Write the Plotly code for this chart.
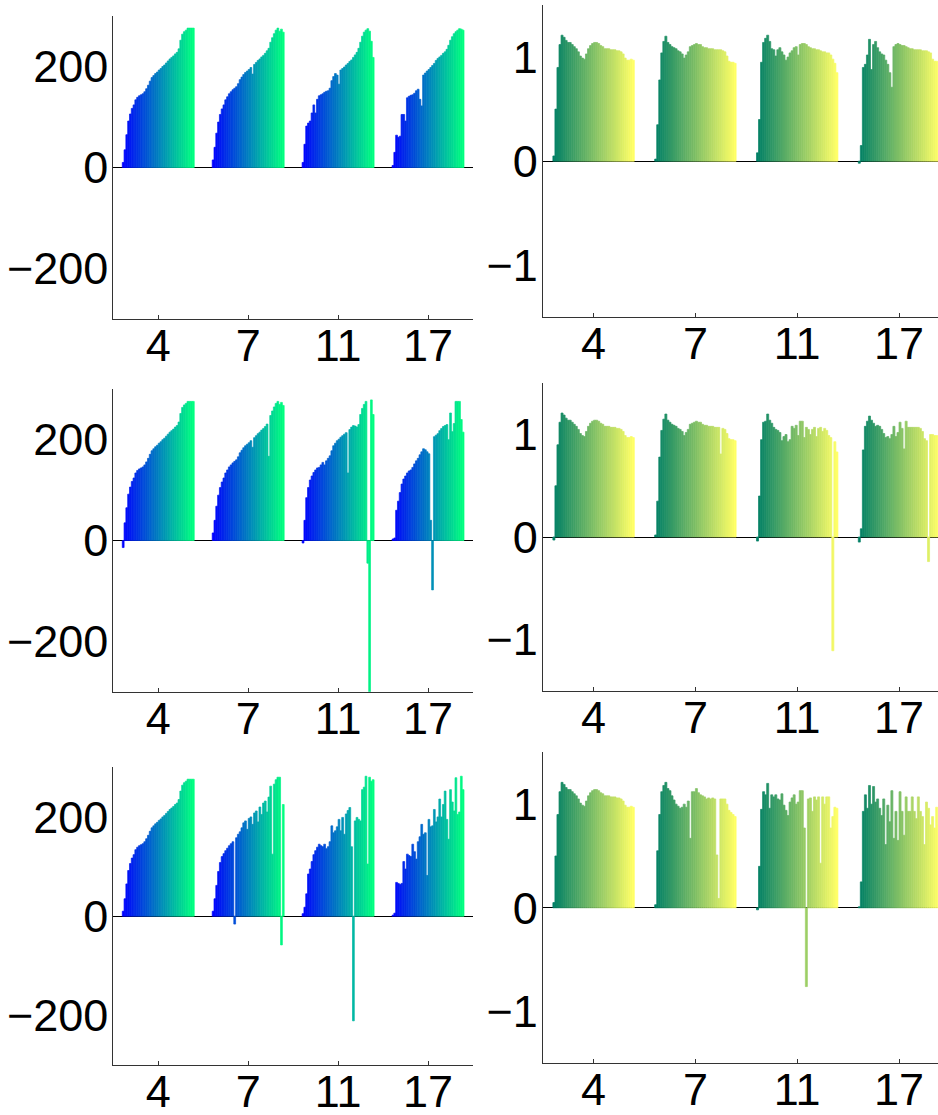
import plotly.graph_objects as go

categories = ["4", "7", "11", "17"]

# ---------- left column (values, scale -300..300) ----------
l1_g1 = [10, 35, 65, 92, 106, 117, 124, 134, 139, 142, 144, 146, 150, 156, 163, 171, 178, 182, 186, 189,
         193, 196, 200, 203, 207, 211, 215, 218, 221, 225, 228, 235, 252, 264, 269, 272, 276, 276, 276, 276]
l1_g2 = [15, 40, 68, 90, 105, 116, 124, 134, 140, 146, 150, 154, 157, 160, 166, 174, 179, 184, 188, 191,
         194, 198, 185, 204, 208, 212, 215, 219, 222, 226, 231, 236, 248, 257, 265, 272, 276, 270, 274, 268]
l1_g3 = [10, 46, 82, 88, 92, 108, 124, 108, 135, 142, 144, 146, 149, 151, 152, 157, 172, 180, 186, 183,
         165, 193, 196, 199, 203, 206, 210, 213, 218, 223, 228, 236, 248, 260, 268, 272, 275, 270, 250, 218]
l1_g4 = [4, 30, 64, 60, 62, 105, 105, 92, 138, 141, 143, 144, 147, 152, 155, 135, 122, 183, 187, 191,
         194, 198, 202, 206, 212, 216, 219, 222, 226, 229, 234, 242, 252, 259, 265, 269, 272, 275, 274, 272]

l2_g1 = [-14, 35, 65, 92, 106, 117, 124, 134, 139, 142, 144, 146, 150, 156, 163, 171, 178, 182, 186, 189,
         193, 196, 200, 203, 207, 211, 215, 218, 221, 225, 228, 235, 252, 264, 269, 272, 276, 276, 276, 276]
l2_g2 = [15, 40, 68, 90, 105, 116, 124, 134, 140, 146, 150, 154, 157, 160, 166, 174, 179, 184, 188, 191,
         194, 198, 185, 204, 208, 212, 215, 219, 222, 226, 231, 167, 248, 257, 265, 272, 276, 270, 274, 268]
l2_g3 = [-5, 40, 85, 105, 120, 128, 135, 140, 144, 145, 150, 155, 150, 158, 163, 168, 178, 188, 193, 198,
         201, 205, 208, 211, 214, 134, 220, 225, 228, 227, 225, 230, 250, 262, 270, 276, -45, -320, 279, 250]
l2_g4 = [3, 5, 60, 78, 95, 112, 122, 128, 134, 138, 140, 145, 152, 158, 163, 170, 176, 182, 180, 176,
         172, 40, -98, 206, 209, 212, 218, 222, 226, 228, 230, 200, 253, 216, 232, 276, 276, 276, 240, 215]

l3_g1 = [10, 35, 65, 92, 106, 117, 124, 134, 139, 142, 144, 146, 150, 156, 163, 171, 178, 182, 186, 189,
         193, 196, 200, 203, 207, 211, 215, 218, 221, 225, 228, 235, 252, 264, 269, 272, 276, 276, 276, 276]
l3_g2 = [10, 35, 62, 90, 108, 120, 126, 132, 137, 142, 146, 150, -16, 158, 165, 170, 178, 188, 192, 175,
         197, 200, 185, 208, 212, 190, 220, 205, 228, 232, 210, 240, 262, 125, 266, 275, 280, 280, -58, 225]
l3_g3 = [5, 18, 45, 85, 95, 110, 124, 132, 139, 145, 142, 140, 145, 136, 140, 150, 182, 168, 172, 180,
         195, 172, 199, 165, 206, 213, 219, 140, -211, 192, 199, 195, 192, 255, 260, 282, 105, 280, 272, 275]
l3_g4 = [2, 6, 68, 66, 64, 66, 110, 95, 125, 122, 120, 145, 130, 115, 150, 160, 185, 165, 168, 82,
         195, 180, 182, 215, 190, 200, 236, 200, 225, 252, 195, 155, 255, 230, 212, 279, 205, 210, 282, 255]

# ---------- right column (values, scale -1.5..1.5) ----------
r1_g1 = [0.05, 0.5, 0.9, 1.12, 1.21, 1.19, 1.16, 1.14, 1.14, 1.12, 1.1, 1.08, 1.05, 1.01, 0.99, 0.98, 1.03, 1.08, 1.11, 1.13,
         1.14, 1.14, 1.13, 1.11, 1.1, 1.08, 1.08, 1.08, 1.07, 1.07, 1.07, 1.06, 1.06, 1.05, 1.03, 0.99, 0.97, 0.97, 0.98, 0.97]
r1_g2 = [0.02, 0.35, 0.78, 1.04, 1.15, 1.2, 1.14, 1.12, 1.1, 1.09, 1.08, 1.06, 1.05, 1.03, 0.99, 1.02, 1.05, 1.1, 1.11, 1.12,
         1.13, 1.12, 1.12, 1.1, 1.09, 1.09, 1.08, 1.08, 1.08, 1.07, 1.07, 1.07, 1.07, 1.06, 1.05, 1.01, 0.96, 0.95, 0.95, 0.94]
r1_g3 = [0.08, 0.4, 0.95, 1.14, 1.18, 1.21, 1.15, 1.08, 1.07, 1.01, 1.07, 1.09, 1.05, 1.02, 0.97, 1.0, 1.04, 1.06, 1.09, 1.1,
         1.02, 1.12, 1.13, 1.13, 1.12, 1.1, 1.09, 1.08, 1.08, 1.07, 1.07, 1.06, 1.05, 1.05, 1.04, 1.04, 1.02, 0.98, 0.94, 0.85]
r1_g4 = [-0.02, 0.15, 0.9, 0.93, 1.02, 1.17, 0.88, 1.12, 1.15, 1.09, 1.05, 1.03, 1.02, 0.97, 0.93, 0.85, 0.71, 1.1, 1.12, 1.13,
         1.12, 1.11, 1.11, 1.1, 1.09, 1.08, 1.08, 1.07, 1.07, 1.07, 1.07, 1.06, 1.06, 1.06, 1.05, 1.04, 0.98, 0.96, 0.96, 0.95]

r2_g1 = [-0.03, 0.5, 0.9, 1.12, 1.21, 1.19, 1.16, 1.14, 1.14, 1.12, 1.1, 1.08, 1.05, 1.01, 0.99, 0.98, 1.03, 1.08, 1.11, 1.13,
         1.14, 1.14, 1.13, 1.11, 1.1, 1.08, 1.08, 1.08, 1.07, 1.07, 1.07, 1.06, 1.06, 1.05, 1.03, 0.99, 0.97, 0.97, 0.98, 0.97]
r2_g2 = [0.02, 0.35, 0.78, 1.04, 1.15, 1.2, 1.14, 1.12, 1.1, 1.09, 1.08, 1.06, 1.05, 1.03, 0.99, 1.02, 1.05, 1.1, 1.11, 1.12,
         1.13, 1.12, 1.12, 1.1, 1.09, 1.09, 1.08, 1.08, 1.08, 1.07, 1.07, 1.07, 0.81, 1.06, 1.05, 1.01, 0.96, 0.95, 0.95, 0.94]
r2_g3 = [-0.04, 0.4, 0.95, 1.12, 1.13, 1.2, 1.14, 1.11, 1.07, 1.05, 1.04, 1.02, 0.94, 0.98, 1.0, 0.93, 0.95, 1.08, 1.06, 1.09,
         0.99, 1.13, 1.13, 0.97, 1.07, 1.05, 1.0, 1.05, 1.07, 0.98, 1.06, 1.07, 1.03, 1.06, 1.04, 0.99, 0.97, -1.11, 0.93, 0.83]
r2_g4 = [-0.05, 0.08, 0.85, 1.08, 1.13, 1.18, 1.14, 1.11, 1.08, 1.09, 1.08, 1.05, 1.01, 0.97, 0.98, 0.96, 1.0, 1.08, 0.98, 1.02,
         1.12, 1.06, 0.86, 1.13, 1.07, 1.07, 1.07, 1.07, 1.07, 1.07, 1.06, 1.03, 0.96, 0.94, -0.24, 1.0, 1.0, 0.99, 0.99, 0.98]

r3_g1 = [0.05, 0.5, 0.9, 1.12, 1.21, 1.19, 1.16, 1.14, 1.14, 1.12, 1.1, 1.08, 1.05, 1.01, 0.99, 0.98, 1.03, 1.08, 1.11, 1.13,
         1.14, 1.14, 1.13, 1.11, 1.1, 1.08, 1.08, 1.08, 1.07, 1.07, 1.07, 1.06, 1.06, 1.05, 1.03, 0.99, 0.97, 0.97, 0.98, 0.97]
r3_g2 = [0.03, 0.55, 0.9, 1.12, 1.18, 1.21, 1.15, 1.13, 1.08, 1.04, 1.0, 0.98, 0.96, 0.97, 1.0, 0.97, 1.03, 0.67, 1.12, 1.12,
         1.15, 1.11, 1.09, 1.08, 1.07, 1.05, 1.06, 1.05, 1.06, 1.05, 0.51, 0.09, 1.05, 1.05, 1.05, 1.0, 0.94, 0.92, 0.9, 0.88]
r3_g3 = [-0.02, 0.4, 0.95, 1.12, 1.09, 1.2, 0.96, 1.09, 1.07, 1.09, 1.05, 1.04, 1.1, 0.99, 0.94, 0.89, 1.02, 1.06, 1.09, 1.0,
         1.02, 1.13, 1.13, 0.77, -0.76, 1.05, 1.06, 0.93, 1.07, 1.04, 1.07, 0.43, 1.07, 1.0, 1.07, 1.07, 0.77, 0.88, 0.97, 0.96]
r3_g4 = [0.01, 0.25, 0.93, 1.09, 0.96, 1.18, 1.0, 1.17, 1.02, 1.05, 0.96, 0.89, 1.05, 0.61, 0.99, 0.83, 1.13, 0.67, 0.93, 0.65,
         1.12, 0.93, 0.7, 1.07, 0.93, 0.93, 1.07, 0.93, 0.86, 1.07, 0.93, 0.88, 0.61, 1.02, 0.96, 0.8, 0.88, 0.77, 0.97, 0.8]

left_ticks = [-200, 0, 200]
right_ticks = [-1, 0, 1]


def winter(t):
    return "rgb(0,%d,%d)" % (round(255 * t), round(255 * (1 - 0.5 * t)))


def summer(t):
    return "rgb(%d,%d,102)" % (round(255 * t), round(255 * (0.5 + 0.5 * t)))


panels = [
    (1, [l1_g1, l1_g2, l1_g3, l1_g4], winter),
    (2, [r1_g1, r1_g2, r1_g3, r1_g4], summer),
    (3, [l2_g1, l2_g2, l2_g3, l2_g4], winter),
    (4, [r2_g1, r2_g2, r2_g3, r2_g4], summer),
    (5, [l3_g1, l3_g2, l3_g3, l3_g4], winter),
    (6, [r3_g1, r3_g2, r3_g3, r3_g4], summer),
]

fig = go.Figure()
for idx, groups, cmap in panels:
    n = len(groups[0])
    for i in range(n):
        c = cmap(i / (n - 1))
        fig.add_trace(go.Bar(
            x=categories,
            y=[g[i] for g in groups],
            marker=dict(color=c, line=dict(width=0.7, color=c)),
            xaxis="x%d" % idx, yaxis="y%d" % idx,
            showlegend=False, hoverinfo="skip",
        ))

W, H = 938, 1115
font = dict(family="Liberation Sans, Arial, Helvetica, sans-serif", size=45, color="black")

# pixel boxes: (left, right, top, bottom)
boxes = {
    1: (113.3, 473.0, 16.0, 319.0),
    2: (542.7, 938.0, 5.0, 317.3),
    3: (113.3, 473.0, 389.3, 691.7),
    4: (542.7, 938.0, 383.3, 690.7),
    5: (113.3, 473.0, 767.3, 1065.0),
    6: (542.7, 938.0, 752.3, 1063.3),
}

layout = dict(
    width=W, height=H, margin=dict(l=0, r=0, t=0, b=0, autoexpand=False),
    paper_bgcolor="white", plot_bgcolor="white",
    barmode="group", bargap=0.2, bargroupgap=0,
    showlegend=False, font=font,
)
for idx, (l, r, t, b) in boxes.items():
    is_left = idx % 2 == 1
    sfx = "" if idx == 1 else str(idx)
    layout["xaxis" + sfx] = dict(
        domain=[l / W, min(r / W, 1.0)], anchor="y%d" % idx,
        type="category", categoryorder="array", categoryarray=categories,
        range=[-0.5, 3.5] if is_left else [-0.5, 3.383],
        showline=True, linecolor="#333333", linewidth=1, mirror=False,
        ticks="inside", ticklen=4, tickcolor="#333333",
        showgrid=False, zeroline=False, tickfont=font, fixedrange=True,
        automargin=False, ticklabelstandoff=-13,
    )
    layout["yaxis" + sfx] = dict(
        domain=[1 - b / H, 1 - t / H], anchor="x%d" % idx,
        range=[-300, 300] if is_left else [-1.5, 1.5],
        tickmode="array", tickvals=left_ticks if is_left else right_ticks,
        showline=True, linecolor="#333333", linewidth=1,
        ticks="", showgrid=False,
        zeroline=True, zerolinecolor="black", zerolinewidth=1,
        tickfont=font, fixedrange=True, automargin=False,
        ticklabelstandoff=-5,
    )

fig.update_layout(**layout)
fig.write_html(
    "out.html",
    config={"displayModeBar": False, "responsive": False},
    post_script="document.body.style.margin='0px';document.body.style.overflow='hidden';",
)
